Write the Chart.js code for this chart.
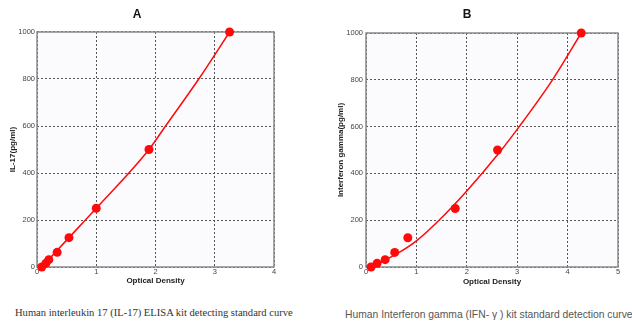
<!DOCTYPE html>
<html>
<head>
<meta charset="utf-8">
<script src="https://cdn.jsdelivr.net/npm/chart.js@4.4.1/dist/chart.umd.min.js"></script>
<style>
  html, body { margin: 0; padding: 0; background: #fff; width: 632px; height: 325px; overflow: hidden; }
  .box { position: absolute; top: 0; height: 290px; }
  .cap { position: absolute; white-space: nowrap; }
  #capA { left: 15px; top: 307px; font: 11px "Liberation Serif", serif; color: #333; }
  #capB { left: 345px; top: 309px; font: 10px "Liberation Sans", Arial, sans-serif; color: #555; }
</style>
</head>
<body>
<div class="box" style="left:0;width:300px"><canvas id="chartA"></canvas></div>
<div class="box" style="left:316px;width:316px"><canvas id="chartB"></canvas></div>
<div class="cap" id="capA">Human interleukin 17 (IL-17) ELISA kit detecting standard curve</div>
<div class="cap" id="capB">Human Interferon gamma (IFN- γ ) kit standard detection curve</div>
<script>
// standard concentrations (pg/ml)
const standards = [0, 15.6, 31.25, 62.5, 125, 250, 500, 1000];

// panel A: IL-17
const odA = [0.08, 0.15, 0.2, 0.34, 0.54, 1.0, 1.89, 3.25];
const curveOdA = [0.08, 0.54, 1.0, 1.89, 2.17, 2.73, 3.25];
const curveConcA = [0, 125, 250, 500, 600, 800, 1000];

// panel B: IFN-gamma
const odB = [0.1, 0.22, 0.38, 0.57, 0.83, 1.77, 2.61, 4.27];
const curveOdB = [0.1, 0.6, 1.0, 1.45, 2.0, 2.63, 3.04, 3.7, 4.27];
const curveConcB = [0, 55, 112, 200, 325, 485, 600, 800, 1000];

const tickFont = { family: 'Liberation Sans, Arial, sans-serif', size: 7.5 };
const boldFont = { family: 'Liberation Sans, Arial, sans-serif', size: 8, weight: 'bold' };
const red = '#ff0a0a';

const framePlugin = {
  id: 'frame',
  beforeDraw(chart) {
    const a = chart.chartArea, ctx = chart.ctx;
    ctx.save();
    ctx.fillStyle = '#fbfbfe';
    ctx.fillRect(a.left, a.top, a.right - a.left, a.bottom - a.top);
    ctx.restore();
  },
  beforeDatasetsDraw(chart) {
    const a = chart.chartArea, ctx = chart.ctx;
    ctx.save();
    ctx.strokeStyle = '#8a8a8a';
    ctx.lineWidth = 1.5;
    ctx.strokeRect(a.left, a.top, a.right - a.left, a.bottom - a.top);
    ctx.restore();
  }
};

function pairs(xs, ys) { return xs.map((x, i) => ({ x, y: ys[i] })); }

function makeChart(id, opts) {
  return new Chart(document.getElementById(id), {
    type: 'scatter',
    data: {
      datasets: [
        { data: pairs(opts.curveX, opts.curveY), showLine: true, pointRadius: 0, borderColor: red,
          borderWidth: 1.5, cubicInterpolationMode: 'monotone', order: 2 },
        { data: pairs(opts.od, standards), pointRadius: 4.5, pointHoverRadius: 4.5, backgroundColor: red,
          borderWidth: 0, clip: false, order: 1 }
      ]
    },
    options: {
      responsive: true, maintainAspectRatio: false, animation: false,
      layout: { padding: { left: 0, right: opts.padRight, top: 0, bottom: 0 } },
      plugins: {
        legend: { display: false }, tooltip: { enabled: false },
        title: { display: true, text: opts.title, color: '#111',
          font: { family: 'Liberation Sans, Arial, sans-serif', size: 12, weight: 'bold' },
          padding: { top: 7.8, bottom: opts.top - 7.8 - 14.4 } }
      },
      scales: {
        x: {
          type: 'linear', min: 0, max: opts.xMax,
          afterFit: s => { s.height = 23; },
          ticks: { stepSize: 1, font: tickFont, color: '#444', padding: 0, maxRotation: 0 },
          grid: { color: '#555', lineWidth: 1, drawTicks: false },
          border: { display: false, dash: [2, 2] },
          title: { display: true, text: 'Optical Density', font: boldFont, color: '#222', padding: { top: 0, bottom: opts.xTitlePad } }
        },
        y: {
          type: 'linear', min: 0, max: 1000,
          afterFit: s => { s.width = opts.yWidth; },
          ticks: { stepSize: 200, font: tickFont, color: '#444', padding: opts.yTickPad, callback: v => String(v) },
          grid: { color: '#555', lineWidth: 1, drawTicks: false },
          border: { display: false, dash: [2, 2] },
          title: { display: true, text: opts.yTitle, font: boldFont, color: '#222', padding: { top: opts.yTitlePad, bottom: 0 } }
        }
      }
    },
    plugins: [framePlugin]
  });
}

makeChart('chartA', { title: 'A', od: odA, curveX: curveOdA, curveY: curveConcA, xMax: 4,
  padRight: 26, top: 32, yWidth: 37, yTickPad: 2, yTitle: 'IL-17(pg/ml)', yTitlePad: 8.2, xTitlePad: 4.2 });
makeChart('chartB', { title: 'B', od: odB, curveX: curveOdB, curveY: curveConcB, xMax: 5,
  padRight: 14, top: 33, yWidth: 50, yTickPad: 3, yTitle: 'Interferon gamma(pg/ml)', yTitlePad: 20.2, xTitlePad: 3.2 });

// stretch captions to the widths seen in the picture
function fitWidth(id, target) {
  const el = document.getElementById(id);
  const w = el.getBoundingClientRect().width;
  const fs = parseFloat(getComputedStyle(el).fontSize);
  el.style.fontSize = (fs * target / w) + 'px';
}
fitWidth('capA', 278);
fitWidth('capB', 288);
</script>
</body>
</html>
